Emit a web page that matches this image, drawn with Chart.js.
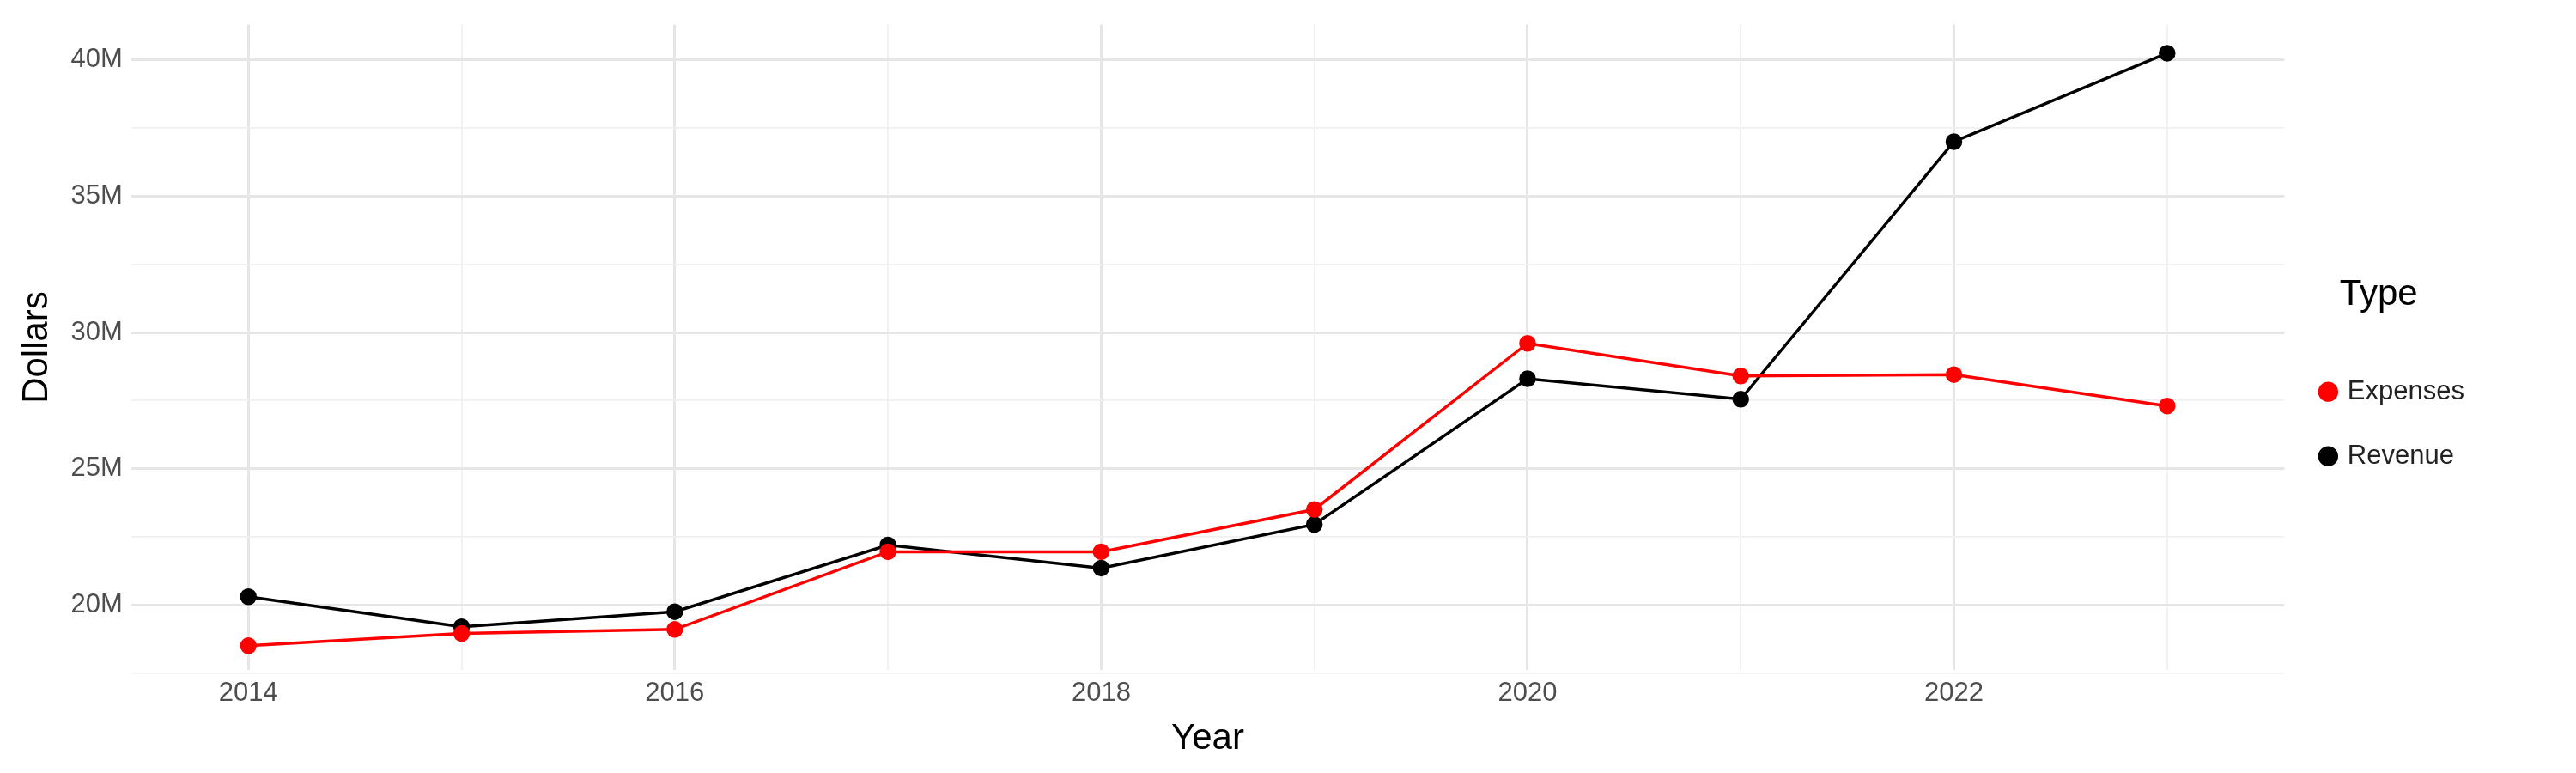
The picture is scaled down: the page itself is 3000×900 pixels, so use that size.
<!DOCTYPE html>
<html><head><meta charset="utf-8">
<script src="https://cdn.jsdelivr.net/npm/chart.js@4"></script>
<style>html,body{margin:0;background:#fff}</style>
</head><body>
<canvas id="c" width="3000" height="900"></canvas>
<script>
const years = [2014,2015,2016,2017,2018,2019,2020,2021,2022,2023];
const expenses = [18.5,18.95,19.1,21.95,21.95,23.5,29.6,28.4,28.45,27.3];
const revenue = [20.3,19.2,19.75,22.2,21.35,22.95,28.3,27.55,37.0,40.25];
const yTicks = [17.5,20,22.5,25,27.5,30,32.5,35,37.5,40];
const xTicks = years;
const font = 'Liberation Sans, Arial, sans-serif';
const mk = (label, vals, color) => ({label, data: years.map((y,i)=>({x:y,y:vals[i]})),
  borderColor: color, backgroundColor: color, borderWidth: 3.5, pointRadius: 8, pointHoverRadius: 8, tension: 0});
new Chart(document.getElementById('c'), {
  type: 'line',
  data: {datasets: [mk('Expenses', expenses, '#ff0000'), mk('Revenue', revenue, '#000000')]},
  options: {
    responsive: false, devicePixelRatio: 1, animation: false,
    layout: {padding: {left: 14, right: 120, top: 23, bottom: 10}},
    plugins: {
      tooltip: {enabled: false},
      legend: {position: 'right', align: 'center',
        title: {display: true, text: 'Type', color: '#000', font: {family: font, size: 42}, padding: {bottom: 24, left: 0}},
        labels: {color: '#222', font: {family: font, size: 31}, usePointStyle: true, pointStyle: 'circle', boxWidth: 14, boxHeight: 14, padding: 44}}
    },
    scales: {
      x: {type: 'linear', min: 2013.45, max: 2023.55,
        afterBuildTicks: s => { s.ticks = xTicks.map(v=>({value:v})); },
        ticks: {color: '#4d4d4d', font: {family: font, size: 31}, maxRotation: 0, autoSkip: false, padding: 8,
          callback: v => v % 2 === 0 ? String(v) : ''},
        grid: {color: c => (c.tick && c.tick.value % 2 === 0) ? '#e6e6e6' : '#f0f0f0',
          lineWidth: c => (c.tick && c.tick.value % 2 === 0) ? 3 : 1.8, drawTicks: false},
        border: {display: false},
        title: {display: true, text: 'Year', color: '#000', font: {family: font, size: 42}, padding: {top: 2}}
      },
      y: {min: 17.6, max: 41.3,
        afterBuildTicks: s => { s.ticks = yTicks.map(v=>({value:v})); },
        ticks: {color: '#4d4d4d', font: {family: font, size: 31}, autoSkip: false, padding: 10,
          callback: v => v % 5 === 0 ? v + 'M' : ''},
        grid: {color: c => (c.tick && c.tick.value % 5 === 0) ? '#e6e6e6' : '#f0f0f0',
          lineWidth: c => (c.tick && c.tick.value % 5 === 0) ? 3 : 1.8, drawTicks: false},
        border: {display: false},
        title: {display: true, text: 'Dollars', color: '#000', font: {family: font, size: 42}}
      }
    }
  }
});
</script>
</body></html>
